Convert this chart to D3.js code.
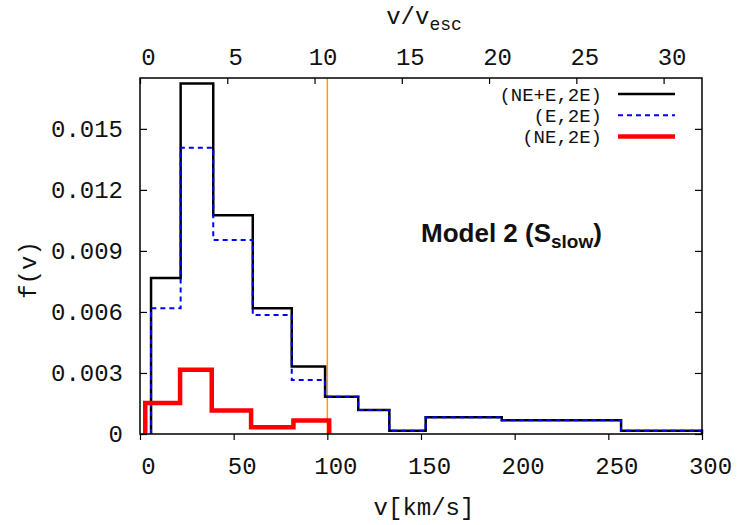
<!DOCTYPE html>
<html>
<head>
<meta charset="utf-8">
<script src="https://cdn.jsdelivr.net/npm/d3@7"></script>
<style>
  body { margin: 0; background: #fff; }
  text { font-family: "Liberation Mono", "Courier New", monospace; fill: #111; }
</style>
</head>
<body>
<div id="chart"></div>
<script>
// bin edges in km/s and f(v) per bin
const edgesAll = [5.9, 21.7, 39.1, 60.2, 81.0, 98.8, 116.5, 133.1, 152.5, 193.1, 256.8, 300];
const fAll = [0.00767, 0.01723, 0.01075, 0.00618, 0.00332, 0.00183, 0.00118, 0.00016, 0.00082, 0.00067, 0.00016];
const fE = [0.00618, 0.01407, 0.00954, 0.00585, 0.00266, 0.00183, 0.00118, 0.00016, 0.00082, 0.00067, 0.00016];
const edgesNE = [2.8, 21.4, 38.3, 59.3, 81.9, 101];
const fNE = [0.00152, 0.00316, 0.00115, 0.00033, 0.00066];

const xTicks = [0, 50, 100, 150, 200, 250, 300];
const x2Ticks = [0, 5, 10, 15, 20, 25, 30];
const yTicks = [0, 0.003, 0.006, 0.009, 0.012, 0.015];
const vLine = 100;

const series = [
    {label: "(NE+E,2E)", edges: edgesAll, vals: fAll, color: "#000", width: 2.5, dash: null},
    {label: "(E,2E)", edges: edgesAll, vals: fE, color: "#0000ff", width: 2, dash: "5,4"},
    {label: "(NE,2E)", edges: edgesNE, vals: fNE, color: "#ff0000", width: 4.5, dash: null}
];

const width = 750, height = 525;
const margin = {top: 78, right: 48, bottom: 91, left: 140};

const svg = d3.select("#chart").append("svg")
    .attr("width", width)
    .attr("height", height);

const x = d3.scaleLinear().domain([0, 300]).range([margin.left, width - margin.right]);
const x2 = d3.scaleLinear().domain([0, 32.2]).range([margin.left, width - margin.right]);
const y = d3.scaleLinear().domain([0, 0.0175]).range([height - margin.bottom, margin.top]);

const fmtY = d => d === 0 ? "0" : d3.format(".3f")(d);

// orange marker at v = 100 km/s
svg.append("line")
    .attr("x1", x(vLine)).attr("x2", x(vLine))
    .attr("y1", y(0)).attr("y2", y(0.0175))
    .attr("stroke", "#ff9a10")
    .attr("stroke-width", 1.5);

// histograms as steps
const line = d3.line()
    .x(d => x(d[0]))
    .y(d => y(d[1]))
    .curve(d3.curveStepAfter);

series.forEach(s => {
    const pts = [[s.edges[0], 0]];
    s.vals.forEach((v, i) => pts.push([s.edges[i], v]));
    pts.push([s.edges[s.edges.length - 1], 0]);
    svg.append("path")
        .datum(pts)
        .attr("fill", "none")
        .attr("stroke", s.color)
        .attr("stroke-width", s.width)
        .attr("stroke-dasharray", s.dash)
        .attr("d", line);
});

// frame
svg.append("rect")
    .attr("x", margin.left).attr("y", margin.top)
    .attr("width", width - margin.left - margin.right)
    .attr("height", height - margin.top - margin.bottom)
    .attr("fill", "none")
    .attr("stroke", "#000")
    .attr("stroke-width", 1.5);

// bottom axis (ticks outward)
const gBottom = svg.append("g")
    .attr("transform", `translate(0,${y(0)})`)
    .call(d3.axisBottom(x).tickValues(xTicks).tickSize(6).tickFormat(d3.format("d")));
gBottom.select(".domain").remove();
gBottom.selectAll("text").attr("dy", null).attr("y", 40).attr("dx", 8).style("font-size", "24px").style("font-family", null);

// top axis (ticks inward)
const gTop = svg.append("g")
    .attr("transform", `translate(0,${margin.top})`)
    .call(d3.axisBottom(x2).tickValues(x2Ticks).tickSize(6).tickFormat(d3.format("d")));
gTop.select(".domain").remove();
gTop.selectAll("text").attr("dy", null).attr("y", -13).attr("dx", 8).style("font-size", "24px").style("font-family", null);

// left axis (ticks inward)
const gLeft = svg.append("g")
    .attr("transform", `translate(${margin.left},0)`)
    .call(d3.axisRight(y).tickValues(yTicks).tickSize(7).tickFormat(fmtY));
gLeft.select(".domain").remove();
gLeft.selectAll("text").attr("x", -17).attr("text-anchor", "end").style("font-size", "24px").style("font-family", null);

// right axis (ticks inward, no labels)
const gRight = svg.append("g")
    .attr("transform", `translate(${width - margin.right},0)`)
    .call(d3.axisLeft(y).tickValues(yTicks).tickSize(7).tickFormat(""));
gRight.select(".domain").remove();

svg.selectAll(".tick line").attr("stroke", "#000").attr("stroke-width", 1.2);

// axis titles
svg.append("text")
    .attr("x", (margin.left + width - margin.right) / 2 + 3)
    .attr("y", 515)
    .attr("text-anchor", "middle")
    .style("font-size", "24px")
    .text("v[km/s]");

const t2 = svg.append("text")
    .attr("x", (margin.left + width - margin.right) / 2 + 3)
    .attr("y", 24)
    .attr("text-anchor", "middle")
    .style("font-size", "24px");
t2.append("tspan").text("v/v");
t2.append("tspan").attr("dy", 6).style("font-size", "18px").text("esc");

svg.append("text")
    .attr("transform", `translate(36,${(margin.top + height - margin.bottom) / 2 + 14}) rotate(-90)`)
    .attr("text-anchor", "middle")
    .style("font-size", "24px")
    .text("f(v)");

// legend
const legend = svg.append("g");
series.forEach((s, i) => {
    const ly = 94 + i * 21.3;
    legend.append("text")
        .attr("x", 602).attr("y", ly)
        .attr("dy", "0.35em")
        .attr("text-anchor", "end")
        .style("font-size", "19px")
        .text(s.label);
    legend.append("line")
        .attr("x1", 618).attr("x2", 675)
        .attr("y1", ly).attr("y2", ly)
        .attr("stroke", s.color)
        .attr("stroke-width", s.width)
        .attr("stroke-dasharray", s.dash);
});

// model label
const m = svg.append("text")
    .attr("x", 421).attr("y", 242)
    .style("font-family", "'Liberation Sans', Arial, sans-serif")
    .style("font-weight", "bold")
    .style("font-size", "26px");
m.append("tspan").text("Model 2 (S");
m.append("tspan").attr("dy", 6).style("font-size", "19px").text("slow");
m.append("tspan").attr("dy", -6).text(")");
</script>
</body>
</html>
